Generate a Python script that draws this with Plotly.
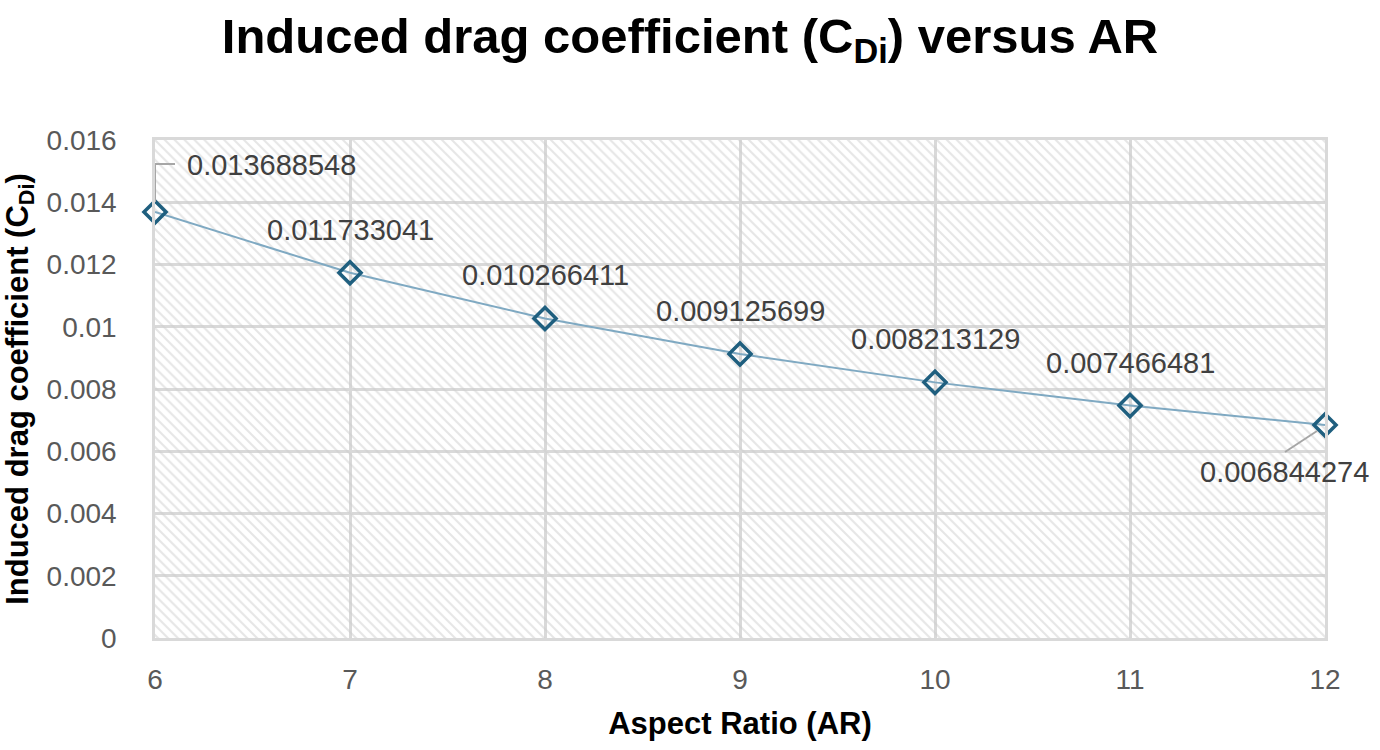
import plotly.graph_objects as go

# ---- data ----
aspect_ratio = [6, 7, 8, 9, 10, 11, 12]
cdi = [0.013688548, 0.011733041, 0.010266411, 0.009125699,
       0.008213129, 0.007466481, 0.006844274]
value_labels = ["0.013688548", "0.011733041", "0.010266411", "0.009125699",
                "0.008213129", "0.007466481", "0.006844274"]
y_tick_vals = [0, 0.002, 0.004, 0.006, 0.008, 0.01, 0.012, 0.014, 0.016]
y_tick_text = ["0", "0.002", "0.004", "0.006", "0.008", "0.01", "0.012", "0.014", "0.016"]
x_tick_vals = [6, 7, 8, 9, 10, 11, 12]
x_range = [6, 12]
y_range = [0, 0.016]

FONT = "Liberation Sans, Arial, sans-serif"
GRID = "#d9d9d9"

fig = go.Figure()

# hatched plot-area background
fig.add_trace(go.Scatter(
    x=[x_range[0], x_range[1], x_range[1], x_range[0], x_range[0]],
    y=[y_range[0], y_range[0], y_range[1], y_range[1], y_range[0]],
    mode="none", fill="toself",
    fillcolor="rgba(0,0,0,0)",
    fillpattern=dict(shape="\\", size=7, solidity=0.3,
                     fgcolor="#cdcdcd", bgcolor="rgba(0,0,0,0)"),
    hoverinfo="skip", showlegend=False,
))

# data series
fig.add_trace(go.Scatter(
    x=aspect_ratio, y=cdi, mode="lines+markers",
    line=dict(color="#7fa9c2", width=2),
    marker=dict(symbol="diamond-open", size=17, color="#1f5f7f",
                line=dict(color="#1f5f7f", width=3.5)),
    cliponaxis=False, showlegend=False,
))

annotations = []
shapes = []
n = len(aspect_ratio)
for i, (xv, yv, lab) in enumerate(zip(aspect_ratio, cdi, value_labels)):
    if i == 0:
        annotations.append(dict(x=xv, y=yv, text=lab, showarrow=False,
                                xanchor="left", yanchor="middle",
                                xshift=30, yshift=47,
                                font=dict(family=FONT, size=29, color="#404040")))
        shapes.append(dict(type="path", xref="x", yref="y",
                           xsizemode="pixel", ysizemode="pixel",
                           xanchor=xv, yanchor=yv,
                           path="M0,10 L0,48 L20,48",
                           line=dict(color="#a6a6a6", width=2)))
    elif i == n - 1:
        annotations.append(dict(x=xv, y=yv, text=lab, showarrow=False,
                                xanchor="center", yanchor="middle",
                                xshift=-41, yshift=-47,
                                font=dict(family=FONT, size=29, color="#404040")))
        shapes.append(dict(type="line", xref="x", yref="y",
                           xsizemode="pixel", ysizemode="pixel",
                           xanchor=xv, yanchor=yv,
                           x0=-8, y0=-6, x1=-40, y1=-27,
                           line=dict(color="#a6a6a6", width=2)))
    else:
        annotations.append(dict(x=xv, y=yv, text=lab, showarrow=False,
                                xanchor="center", yanchor="middle",
                                yshift=43,
                                font=dict(family=FONT, size=29, color="#404040")))

fig.update_layout(
    width=1380, height=750,
    margin=dict(l=155, r=55, t=140, b=112),
    paper_bgcolor="white", plot_bgcolor="white",
    title=dict(text="<b>Induced drag coefficient (C<sub>Di</sub>) versus AR</b>",
               x=0.5, xanchor="center", y=0.952, yanchor="middle",
               font=dict(family=FONT, size=49, color="black")),
    annotations=annotations,
    shapes=shapes,
    hovermode=False,
)

fig.update_xaxes(
    range=x_range, tickvals=x_tick_vals, ticktext=[str(v) for v in x_tick_vals],
    showgrid=True, gridcolor=GRID, gridwidth=2.5,
    zeroline=False, showline=True, linecolor=GRID, linewidth=2.5, mirror=True,
    ticks="", ticklabelstandoff=15,
    tickfont=dict(family=FONT, size=28, color="#595959"),
    title=dict(text="<b>Aspect Ratio (AR)</b>", standoff=18,
               font=dict(family=FONT, size=31, color="black")),
)
fig.update_yaxes(
    range=y_range, tickvals=y_tick_vals, ticktext=y_tick_text,
    showgrid=True, gridcolor=GRID, gridwidth=2.5,
    zeroline=False, showline=True, linecolor=GRID, linewidth=2.5, mirror=True,
    ticks="", ticklabelstandoff=30,
    tickfont=dict(family=FONT, size=28, color="#595959"),
    title=dict(text="<b>Induced drag coefficient (C<sub>Di</sub>)</b>", standoff=12,
               font=dict(family=FONT, size=31, color="black")),
)

fig.write_html("out.html")
